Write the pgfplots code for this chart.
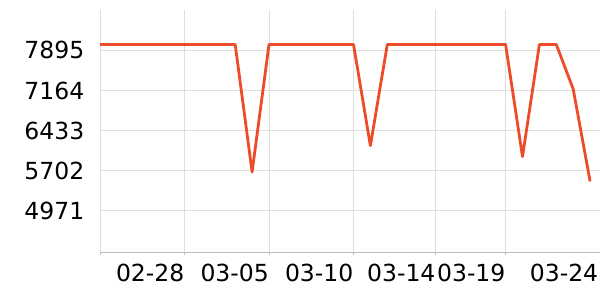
\documentclass[border=0pt]{standalone}
\usepackage{pgfplots}
\pgfplotsset{compat=1.18}
\usepackage{fontspec}
\setmainfont{DejaVu Sans}
\definecolor{linec}{RGB}{238,75,43}
\definecolor{gridc}{RGB}{222,222,222}
\definecolor{axc}{RGB}{190,190,190}
\begin{document}
\begin{tikzpicture}
\path[use as bounding box] (0,0) rectangle (600bp,300bp);
\begin{axis}[
  at={(100bp,47.7bp)}, anchor=south west,
  scale only axis, width=500bp, height=242.3bp,
  xmin=0, xmax=29.586, ymin=4219.5, ymax=8628,
  axis lines*=left,
  x axis line style={axc, line width=1bp, -},
  y axis line style={gridc, line width=1bp, -},
  xtick={0,5,10,15,19.86,24},
  xticklabels={,02-28,03-05,03-10,03-14,03-19},
  extra x ticks={29.49},
  extra x tick labels={03-24},
  extra x tick style={grid=none, x tick style={draw=none}},
  ytick={4971,5702,6433,7164,7895},
  xmajorgrids, ymajorgrids,
  grid style={gridc, line width=1bp},
  tick align=outside,
  major tick length=3bp,
  x tick style={axc, line width=1bp},
  y tick style={draw=none},
  /pgf/number format/assume math mode=true,
  /pgf/number format/1000 sep={},
  ticklabel style={font=\fontsize{23.5bp}{28bp}\selectfont, text=black},
  xticklabel style={anchor=north east, inner sep=0pt, yshift=-8.5bp},
  yticklabel style={anchor=east, inner sep=0pt, xshift=-12.5bp},
  clip=false,
]
\addplot[linec, line width=2.8bp, line join=round, mark=none] coordinates {
(0,8000) (1,8000) (2,8000) (3,8000) (4,8000) (5,8000) (6,8000) (7,8000)
(8,8000) (9,5680) (10,8000) (11,8000) (12,8000) (13,8000) (14,8000) (15,8000)
(16,6160) (17,8000) (18,8000) (19,8000) (20,8000) (21,8000) (22,8000) (23,8000)
(24,8000) (25,5960) (26,8000) (27,8000) (28,7190) (29,5510)
};
\end{axis}
\end{tikzpicture}
\end{document}
